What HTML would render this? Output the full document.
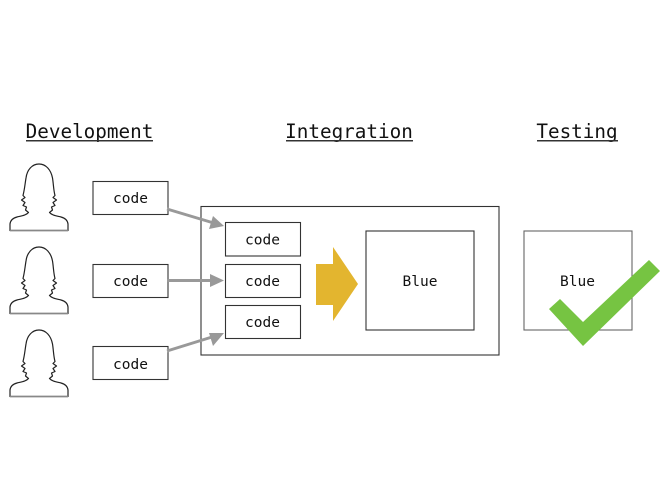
<!DOCTYPE html>
<html>
<head>
<meta charset="utf-8">
<style>
html,body{margin:0;padding:0;background:#fff;width:666px;height:497px;overflow:hidden}
svg{display:block;filter:blur(0.35px)}
text{font-family:"DejaVu Sans Mono","Liberation Mono",monospace;fill:#111;text-anchor:middle}
.h{font-size:19.3px}
.c{font-size:14.5px}
.b{fill:#fff;stroke:#333;stroke-width:1.1}
.l{stroke:#999;stroke-width:3;fill:none}
.a{fill:#999}
.p{fill:#fff;stroke:#222;stroke-width:1.2;stroke-linejoin:round}
</style>
</head>
<body>
<svg width="666" height="497" viewBox="0 0 666 497" xmlns="http://www.w3.org/2000/svg">
<defs>
<g id="person">
<path class="p" d="M10 230.500 L10 224 C10.500 220 13 218 17 217 C21 216 26 215.500 28.500 212.500 L25.500 210 L26.500 207 L23 205.500 L25 202.500 L21.500 200 L25 197.500 L23 195.500 C24.500 190 25 184 26 178 C27 170 32 164 39 164 C46 164 51 170 52.500 178 C53.500 184 53.500 190 55 195.500 L53 197.500 L56.500 200 L53 202.500 L55 205.500 L51.500 207 L52.500 210 L49.500 212.500 C52 215.500 57 216 61 217 C65 218 67.500 220 68 224 L68 230.500 Z"/>
<path d="M10 230.500 L68 230.500" stroke="#888" stroke-width="1.500"/>
</g>
</defs>

<text class="h" x="89.500" y="138">Development</text>
<rect x="26" y="140" width="127" height="1.500" fill="#333"/>
<text class="h" x="349" y="138">Integration</text>
<rect x="286" y="140" width="127" height="1.500" fill="#333"/>
<text class="h" x="577" y="138">Testing</text>
<rect x="537" y="140" width="81" height="1.500" fill="#333"/>

<use href="#person"/>
<use href="#person" y="83"/>
<use href="#person" y="166"/>

<rect class="b" x="93" y="181.500" width="75" height="33"/>
<rect class="b" x="93" y="264.500" width="75" height="33"/>
<rect class="b" x="93" y="346.500" width="75" height="33"/>
<text class="c" x="130.500" y="203">code</text>
<text class="c" x="130.500" y="286">code</text>
<text class="c" x="130.500" y="369">code</text>

<rect class="b" x="201" y="206.500" width="298" height="148.500" style="fill:none"/>
<rect class="b" x="225.500" y="222.500" width="75" height="33.500"/>
<rect class="b" x="225.500" y="264.500" width="75" height="33"/>
<rect class="b" x="225.500" y="305.500" width="75" height="33"/>
<text class="c" x="262.500" y="244.500">code</text>
<text class="c" x="262.500" y="286">code</text>
<text class="c" x="262.500" y="327">code</text>

<line class="l" x1="167" y1="209" x2="212" y2="222.500"/>
<polygon class="a" points="224,226 209,229 213,216"/>
<line class="l" x1="167" y1="280.500" x2="212" y2="280.500"/>
<polygon class="a" points="224,280.500 210,287 210,274"/>
<line class="l" x1="167" y1="351" x2="212" y2="337"/>
<polygon class="a" points="224,333 213,346 209,333"/>

<polygon fill="#e3b52f" points="316,264 333,264 333,247 358,284 333,321 333,305 316,305"/>

<rect class="b" x="366" y="231" width="108" height="99"/>
<text class="c" x="420" y="286">Blue</text>

<rect class="b" x="524" y="231" width="108" height="99" style="stroke:#666"/>
<text class="c" x="577.500" y="286">Blue</text>
<polygon fill="#76c442" points="649,260 660,271 583,346 549,309 560,299 583,322"/>
</svg>
</body>
</html>
